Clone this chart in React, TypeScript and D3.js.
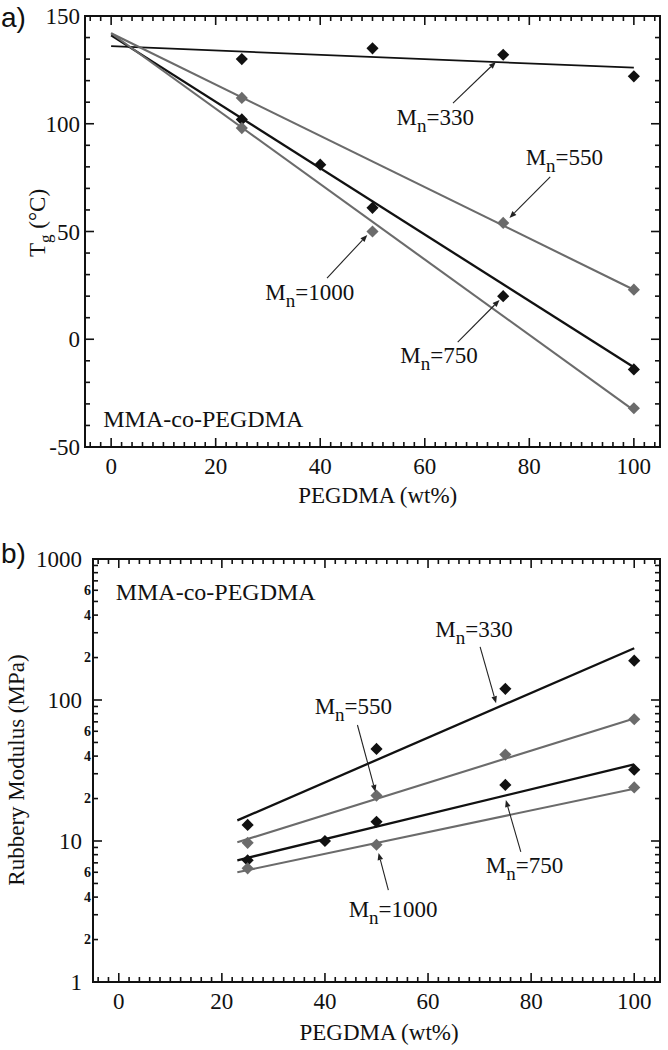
import React from "react";
import * as d3 from "d3";

// ---------- Data: panel a) Tg vs PEGDMA ----------
const xTicks = [0, 20, 40, 60, 80, 100];
const tgTicks = [-50, 0, 50, 100, 150];

const tgX330 = [25, 50, 75, 100];
const tg330 = [130, 135, 132, 122];
const tgX550 = [25, 75, 100];
const tg550 = [112, 54, 23];
const tgX750 = [25, 40, 50, 75, 100];
const tg750 = [102, 81, 61, 20, -14];
const tgX1000 = [25, 50, 100];
const tg1000 = [98, 50, -32];

const tgFitX = [0, 100];
const tgFit330 = [136, 126];
const tgFit550 = [142, 23];
const tgFit750 = [141, -13];
const tgFit1000 = [142, -33];

// ---------- Data: panel b) Rubbery modulus ----------
const modMajorTicks = [1, 10, 100, 1000];
const modMinorLabels = [2, 4, 6];

const modX330 = [25, 50, 75, 100];
const mod330 = [13, 45, 120, 190];
const modX550 = [25, 50, 75, 100];
const mod550 = [9.7, 21, 41, 73];
const modX750 = [25, 40, 50, 75, 100];
const mod750 = [7.3, 10, 13.7, 25, 32];
const modX1000 = [25, 50, 100];
const mod1000 = [6.4, 9.4, 24];

const modFitX = [23, 100];
const modFit330 = [14, 233];
const modFit550 = [9.8, 74];
const modFit750 = [7.3, 35];
const modFit1000 = [6.0, 23.5];

// annotations: label, text position, arrow start, arrow end (data coords)
const tgNotes = [
  { n: "330", t: [54.6, 99.4], a: [65.4, 109.6], b: [73.6, 128.7] },
  { n: "550", t: [79.3, 80.9], a: [84.0, 75.3], b: [76.2, 56.3] },
  { n: "1000", t: [29.5, 18.2], a: [41.3, 28.4], b: [49.0, 48.4] },
  { n: "750", t: [55.3, -11], a: [66.3, -1.3], b: [74.3, 18.2] },
];
const modNotes = [
  { n: "330", t: [61.4, 280], a: [70.1, 238], b: [73.2, 95] },
  { n: "550", t: [38.0, 79.6], a: [46.3, 66.5], b: [49.8, 22.3] },
  { n: "1000", t: [44.6, 2.89], a: [52.3, 4.49], b: [50.4, 8.22] },
  { n: "750", t: [71.2, 5.93], a: [78.0, 8.36], b: [75.1, 19.5] },
];

const BLACK = "#111";
const GRAY = "#6b6b6b";
const SERIF = "'Liberation Serif', 'Times New Roman', serif";
const SANS = "'Liberation Sans', Arial, sans-serif";

const W = 668;
const H = 1050;

function Diamond({ x, y, color }: { x: number; y: number; color: string }) {
  const p = d3.symbol(d3.symbolSquare, 74)();
  return <path d={p || ""} transform={`translate(${x},${y}) rotate(45)`} fill={color} />;
}

function Arrow({ x1, y1, x2, y2 }: { x1: number; y1: number; x2: number; y2: number }) {
  const ang = Math.atan2(y2 - y1, x2 - x1);
  const L = 7, Wd = 2.8;
  const bx = x2 - L * Math.cos(ang), by = y2 - L * Math.sin(ang);
  const px = -Math.sin(ang) * Wd, py = Math.cos(ang) * Wd;
  return (
    <g>
      <line x1={x1} y1={y1} x2={bx} y2={by} stroke="#222" strokeWidth={1.1} />
      <path d={`M${x2},${y2}L${bx + px},${by + py}L${bx - px},${by - py}Z`} fill="#222" />
    </g>
  );
}

function MnLabel({ x, y, n }: { x: number; y: number; n: string }) {
  return (
    <text x={x} y={y} fontFamily={SERIF} fontSize={23} fill="#111">
      M<tspan dy={7} fontSize={19}>n</tspan>
      <tspan dy={-7}>={n}</tspan>
    </text>
  );
}

function Frame({ l, r, t, b }: { l: number; r: number; t: number; b: number }) {
  return <rect x={l} y={t} width={r - l} height={b - t} fill="none" stroke="#111" strokeWidth={2} />;
}

export default function App() {
  // Panel a
  const aL = 85, aR = 660, aT = 16, aB = 447;
  const xa = d3.scaleLinear().domain([-5, 105]).range([aL, aR]);
  const ya = d3.scaleLinear().domain([-50, 150]).range([aB, aT]);
  // Panel b
  const bL = 93, bR = 660, bT = 559, bB = 982;
  const xb = d3.scaleLinear().domain([-5, 105]).range([bL, bR]);
  const yb = d3.scaleLog().domain([1, 1000]).range([bB, bT]);

  const minorX = d3.range(-4, 105, 2);
  const minorTg = d3.range(-50, 151, 10);
  const minorLog: number[] = [];
  for (const dec of [1, 10, 100]) for (let k = 1; k <= 9; k++) minorLog.push(dec * k);
  minorLog.push(1000);

  const tgSeries = [
    { xs: tgX330, ys: tg330, fit: tgFit330, c: BLACK, w: 1.7 },
    { xs: tgX550, ys: tg550, fit: tgFit550, c: GRAY, w: 2.1 },
    { xs: tgX750, ys: tg750, fit: tgFit750, c: BLACK, w: 2.3 },
    { xs: tgX1000, ys: tg1000, fit: tgFit1000, c: GRAY, w: 2.1 },
  ];
  const modSeries = [
    { xs: modX330, ys: mod330, fit: modFit330, c: BLACK, w: 2.3 },
    { xs: modX550, ys: mod550, fit: modFit550, c: GRAY, w: 2.1 },
    { xs: modX750, ys: mod750, fit: modFit750, c: BLACK, w: 2.3 },
    { xs: modX1000, ys: mod1000, fit: modFit1000, c: GRAY, w: 2.1 },
  ];

  return (
    <svg width={W} height={H} style={{ position: "absolute", left: 0, top: 0, background: "#fff" }}>
      <rect width={W} height={H} fill="#fff" />
      {/* ================= Panel a ================= */}
      <text x={1} y={27} fontFamily={SANS} fontSize={28} fill="#111">a)</text>
      {minorX.map((v) => {
        const major = v % 20 === 0;
        const len = major ? 9 : 5;
        return (
          <g key={"ax" + v} stroke="#111" strokeWidth={1.6}>
            <line x1={xa(v)} x2={xa(v)} y1={aB} y2={aB - len} />
            <line x1={xa(v)} x2={xa(v)} y1={aT} y2={aT + len} />
          </g>
        );
      })}
      {minorTg.map((v) => {
        const major = v % 50 === 0;
        const len = major ? 9 : 5;
        return (
          <g key={"ay" + v} stroke="#111" strokeWidth={1.6}>
            <line x1={aL} x2={aL + len} y1={ya(v)} y2={ya(v)} />
            <line x1={aR} x2={aR - len} y1={ya(v)} y2={ya(v)} />
          </g>
        );
      })}
      <Frame l={aL} r={aR} t={aT} b={aB} />
      {xTicks.map((v) => (
        <text key={"axl" + v} x={xa(v)} y={474} textAnchor="middle" fontFamily={SERIF} fontSize={23} fill="#111">
          {v}
        </text>
      ))}
      {tgTicks.map((v) => (
        <text key={"ayl" + v} x={80} y={ya(v)} dy="0.35em" textAnchor="end" fontFamily={SERIF} fontSize={23} fill="#111">
          {v}
        </text>
      ))}
      <text x={xa(51)} y={503} textAnchor="middle" fontFamily={SERIF} fontSize={23} fill="#111">
        PEGDMA (wt%)
      </text>
      <text transform={`translate(45,${223}) rotate(-90)`} textAnchor="middle" fontFamily={SERIF} fontSize={23} fill="#111">
        T<tspan dy={6} fontSize={17}>g</tspan>
        <tspan dy={-6}> (°C)</tspan>
      </text>
      {tgSeries.map((s, i) => (
        <line key={"tgs" + i} x1={xa(tgFitX[0])} y1={ya(s.fit[0])} x2={xa(tgFitX[1])} y2={ya(s.fit[1])} stroke={s.c} strokeWidth={s.w} />
      ))}
      {tgSeries.map((s, i) => (
        <g key={"tgp" + i}>
          {s.xs.map((x, j) => (
            <Diamond key={j} x={xa(x)} y={ya(s.ys[j])} color={s.c} />
          ))}
        </g>
      ))}
      {tgNotes.map((a) => (
        <g key={"tn" + a.n}>
          <Arrow x1={xa(a.a[0])} y1={ya(a.a[1])} x2={xa(a.b[0])} y2={ya(a.b[1])} />
          <MnLabel x={xa(a.t[0])} y={ya(a.t[1])} n={a.n} />
        </g>
      ))}
      <text x={xa(-1.5)} y={ya(-40.7)} fontFamily={SERIF} fontSize={24} fill="#111">MMA-co-PEGDMA</text>

      {/* ================= Panel b ================= */}
      <text x={1} y={563} fontFamily={SANS} fontSize={28} fill="#111">b)</text>
      {minorX.map((v) => {
        const major = v % 20 === 0;
        const len = major ? 9 : 5;
        return (
          <g key={"bx" + v} stroke="#111" strokeWidth={1.6}>
            <line x1={xb(v)} x2={xb(v)} y1={bB} y2={bB - len} />
            <line x1={xb(v)} x2={xb(v)} y1={bT} y2={bT + len} />
          </g>
        );
      })}
      {minorLog.map((v) => {
        const major = modMajorTicks.includes(v);
        const len = major ? 9 : 5;
        return (
          <g key={"by" + v} stroke="#111" strokeWidth={1.6}>
            <line x1={bL} x2={bL + len} y1={yb(v)} y2={yb(v)} />
            <line x1={bR} x2={bR - len} y1={yb(v)} y2={yb(v)} />
          </g>
        );
      })}
      <Frame l={bL} r={bR} t={bT} b={bB} />
      {xTicks.map((v) => (
        <text key={"bxl" + v} x={xb(v)} y={1009} textAnchor="middle" fontFamily={SERIF} fontSize={23} fill="#111">
          {v}
        </text>
      ))}
      {modMajorTicks.map((v) => (
        <text key={"byl" + v} x={82} y={yb(v)} dy="0.35em" textAnchor="end" fontFamily={SERIF} fontSize={23} fill="#111">
          {v}
        </text>
      ))}
      {[1, 10, 100].map((dec) =>
        modMinorLabels.map((k) => (
          <text key={"bym" + dec * k} x={91} y={yb(dec * k)} dy="0.35em" textAnchor="end" fontFamily={SERIF} fontSize={14} fontWeight="bold" fill="#111">
            {k}
          </text>
        ))
      )}
      <text x={xb(50.5)} y={1040} textAnchor="middle" fontFamily={SERIF} fontSize={23} fill="#111">
        PEGDMA (wt%)
      </text>
      <text transform={`translate(24,${770}) rotate(-90)`} textAnchor="middle" fontFamily={SERIF} fontSize={23} fill="#111">
        Rubbery Modulus (MPa)
      </text>
      {modSeries.map((s, i) => (
        <line key={"mfl" + i} x1={xb(modFitX[0])} y1={yb(s.fit[0])} x2={xb(modFitX[1])} y2={yb(s.fit[1])} stroke={s.c} strokeWidth={s.w} />
      ))}
      {modSeries.map((s, i) => (
        <g key={"mp" + i}>
          {s.xs.map((x, j) => (
            <Diamond key={j} x={xb(x)} y={yb(s.ys[j])} color={s.c} />
          ))}
        </g>
      ))}
      {modNotes.map((a) => (
        <g key={"mn" + a.n}>
          <Arrow x1={xb(a.a[0])} y1={yb(a.a[1])} x2={xb(a.b[0])} y2={yb(a.b[1])} />
          <MnLabel x={xb(a.t[0])} y={yb(a.t[1])} n={a.n} />
        </g>
      ))}
      <text x={xb(-0.6)} y={yb(512)} fontFamily={SERIF} fontSize={24} fill="#111">MMA-co-PEGDMA</text>
    </svg>
  );
}
